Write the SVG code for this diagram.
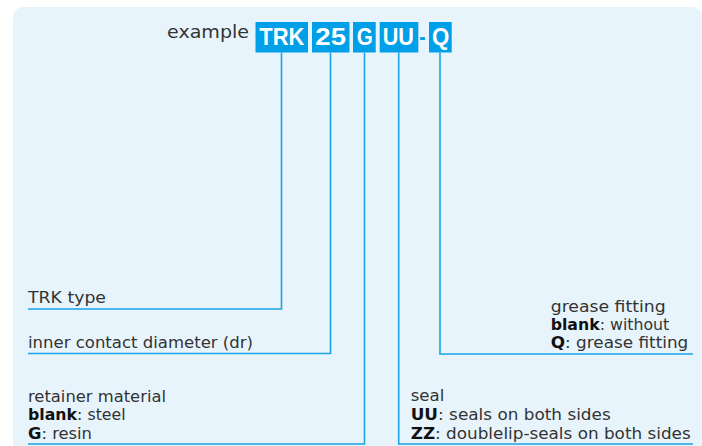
<svg xmlns="http://www.w3.org/2000/svg" width="702" height="446" viewBox="0 0 702 446">
<style>
.bg{fill:#e8f4fc}
.box{fill:#00a0e9}
.bt{font-family:"Liberation Sans",Arial,sans-serif;font-weight:bold;font-size:23px;fill:#ffffff}
.lbl{font-family:"DejaVu Sans","Liberation Sans",sans-serif;font-size:15.5px;fill:#333333}
.lbl tspan.b{font-weight:bold;fill:#111111}
.ln{fill:none;stroke:#1aa3e8;stroke-width:1.6}
</style>
<rect class="bg" x="13" y="7" width="689" height="460" rx="10"/>
<g id="title">
<text x="167" y="38" font-family="DejaVu Sans,'Liberation Sans',sans-serif" font-size="18.5" fill="#333333" textLength="82" lengthAdjust="spacingAndGlyphs">example</text>
</g>
<g id="code-TRK"><rect class="box" x="255.5" y="22" width="52.5" height="30.5"/><text class="bt" x="259.3" y="45" textLength="45" lengthAdjust="spacingAndGlyphs">TRK</text></g>
<g id="code-25"><rect class="box" x="312" y="22" width="37.5" height="30.5"/><text class="bt" x="315.3" y="45" textLength="30.7" lengthAdjust="spacingAndGlyphs">25</text></g>
<g id="code-G"><rect class="box" x="353" y="22" width="22.7" height="30.5"/><text class="bt" x="356.7" y="45" textLength="16" lengthAdjust="spacingAndGlyphs">G</text></g>
<g id="code-UU"><rect class="box" x="379.7" y="22" width="38.6" height="30.5"/><text class="bt" x="382.7" y="45" textLength="31.3" lengthAdjust="spacingAndGlyphs">UU</text></g>
<g id="dash"><text x="419.3" y="45" font-family="'Liberation Sans',Arial,sans-serif" font-weight="bold" font-size="23" fill="#00a0e9" textLength="6.4" lengthAdjust="spacingAndGlyphs">-</text></g>
<g id="code-Q"><rect class="box" x="429" y="22" width="22.7" height="30.5"/><text class="bt" x="432" y="45" textLength="17.3" lengthAdjust="spacingAndGlyphs">Q</text></g>
<g id="connectors">
<polyline class="ln" points="281.5,52.5 281.5,309 28,309"/>
<polyline class="ln" points="330.5,52.5 330.5,353.5 28,353.5"/>
<polyline class="ln" points="364.5,52.5 364.5,444 28,444"/>
<polyline class="ln" points="398.7,52.5 398.7,444 693,444"/>
<polyline class="ln" points="440,52.5 440,354 693,354"/>
</g>
<g id="label-type"><text class="lbl" x="28" y="303.3" textLength="78" lengthAdjust="spacingAndGlyphs">TRK type</text></g>
<g id="label-diameter"><text class="lbl" x="28" y="348.3" textLength="225" lengthAdjust="spacingAndGlyphs">inner contact diameter (dr)</text></g>
<g id="label-retainer">
<text class="lbl" x="28" y="401.5" textLength="138" lengthAdjust="spacingAndGlyphs">retainer material</text>
<text class="lbl" x="28" y="420" textLength="97.7" lengthAdjust="spacingAndGlyphs"><tspan class="b">blank</tspan>: steel</text>
<text class="lbl" x="28" y="439" textLength="64" lengthAdjust="spacingAndGlyphs"><tspan class="b">G</tspan>: resin</text>
</g>
<g id="label-grease">
<text class="lbl" x="550.7" y="312.3" textLength="115" lengthAdjust="spacingAndGlyphs">grease fitting</text>
<text class="lbl" x="550.7" y="330" textLength="118.6" lengthAdjust="spacingAndGlyphs"><tspan class="b">blank</tspan>: without</text>
<text class="lbl" x="550.7" y="348.3" textLength="137.6" lengthAdjust="spacingAndGlyphs"><tspan class="b">Q</tspan>: grease fitting</text>
</g>
<g id="label-seal">
<text class="lbl" x="410.7" y="400.7" textLength="33.6" lengthAdjust="spacingAndGlyphs">seal</text>
<text class="lbl" x="410.7" y="420" textLength="200" lengthAdjust="spacingAndGlyphs"><tspan class="b">UU</tspan>: seals on both sides</text>
<text class="lbl" x="410.7" y="439" textLength="280" lengthAdjust="spacingAndGlyphs"><tspan class="b">ZZ</tspan>: doublelip-seals on both sides</text>
</g>
</svg>
